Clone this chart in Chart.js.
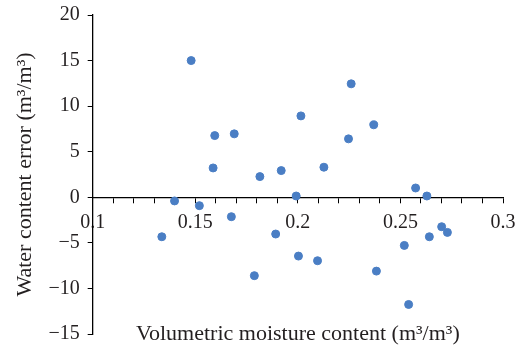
<!DOCTYPE html>
<html>
<head>
<meta charset="utf-8">
<script src="https://cdn.jsdelivr.net/npm/chart.js@4"></script>
<style>
  html, body { margin: 0; padding: 0; background: #fff; }
  #wrap { width: 515px; height: 351px; }
</style>
</head>
<body>
<div id="wrap"><canvas id="grafico"></canvas></div>
<script>
// valores
const umidade = [0.148, 0.1595, 0.169, 0.1587, 0.226, 0.2015, 0.237, 0.2247, 0.1815, 0.1919,
  0.2127, 0.1399, 0.152, 0.1676, 0.1337, 0.1788, 0.1992, 0.2574, 0.2629, 0.1892,
  0.2003, 0.2096, 0.2383, 0.2519, 0.2641, 0.2701, 0.2729, 0.254];
const erro = [15.0, 6.77, 6.96, 3.22, 12.45, 8.93, 7.95, 6.41, 2.27, 2.93,
  3.30, -0.4, -0.92, -2.13, -4.33, -8.6, 0.14, 1.02, 0.14, -4.03,
  -6.45, -6.96, -8.1, -5.28, -4.33, -3.23, -3.85, -11.76];
const tituloX = 'Volumetric moisture content (m\u00b3/m\u00b3)';
const tituloY = 'Water content error (m\u00b3/m\u00b3)';

const familia = '"Liberation Serif", "DejaVu Serif", serif';
const fonteTicks = { family: familia, size: 20 };
const fonteTitulo = { family: familia, size: 22 };
const pontos = umidade.map((x, i) => ({ x: x, y: erro[i] }));

// título do eixo x fica dentro da área, ao lado do -15
const tituloXPlugin = {
  id: 'tituloX',
  afterDraw(chart) {
    const ctx = chart.ctx;
    ctx.save();
    ctx.font = fonteTitulo.size + 'px ' + familia;
    ctx.fillStyle = '#231f20';
    ctx.textAlign = 'center';
    ctx.textBaseline = 'middle';
    ctx.fillText(tituloX, chart.scales.x.getPixelForValue(0.2), chart.scales.y.getPixelForValue(-15));
    ctx.restore();
  }
};

new Chart(document.getElementById('grafico').getContext('2d'), {
  type: 'scatter',
  data: {
    datasets: [{
      data: pontos,
      backgroundColor: '#4a7ec4',
      borderColor: '#4a7ec4',
      pointRadius: 4,
      pointHoverRadius: 4
    }]
  },
  options: {
    responsive: true,
    maintainAspectRatio: false,
    animation: false,
    layout: { padding: { left: 12, right: 12, top: 15, bottom: 17 } },
    plugins: { legend: { display: false }, tooltip: { enabled: false } },
    scales: {
      x: {
        type: 'linear',
        position: { y: 0 },
        min: 0.1,
        max: 0.3,
        afterFit: (s) => { s.height = 0; s.paddingLeft = 0; s.paddingRight = 0; },
        border: { display: true, color: '#000', width: 1.3 },
        grid: { drawOnChartArea: false, color: '#000', tickLength: 5, lineWidth: 1 },
        ticks: {
          stepSize: 0.01,
          autoSkip: false,
          maxRotation: 0,
          padding: 8,
          color: '#231f20',
          font: fonteTicks,
          callback: (v) => {
            const r = Math.round(v * 100);
            return r % 5 === 0 ? String(r / 100) : '';
          }
        }
      },
      y: {
        min: -15,
        max: 20,
        afterFit: (s) => { s.paddingTop = 0; s.paddingBottom = 0; },
        border: { display: true, color: '#000', width: 1.3 },
        grid: { drawOnChartArea: false, color: '#000', tickLength: 5, lineWidth: 1 },
        title: { display: true, text: tituloY, color: '#231f20', font: fonteTitulo, padding: { top: 0, bottom: 2 } },
        ticks: {
          stepSize: 2.5,
          padding: 8,
          color: '#231f20',
          font: fonteTicks,
          callback: (v) => {
            if (v % 5 !== 0) return '';
            return v < 0 ? '\u2212' + Math.abs(v) : String(v);
          }
        }
      }
    }
  },
  plugins: [tituloXPlugin]
});
</script>
</body>
</html>
